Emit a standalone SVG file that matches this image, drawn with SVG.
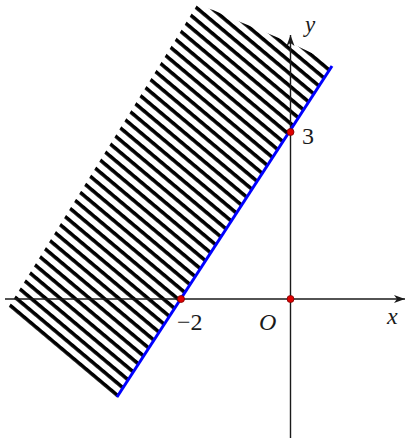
<svg xmlns="http://www.w3.org/2000/svg" width="406" height="443" viewBox="0 0 406 443">
<style>
.axis{stroke:#1a1a1a;stroke-width:1.4;fill:none}
.lbl{font-family:'Liberation Serif','Times New Roman',serif;font-style:italic;fill:#1a1a1a}
.num{font-family:'Liberation Serif','Times New Roman',serif;fill:#1a1a1a}
.pt{fill:#e00000;stroke:#7a0000;stroke-width:0.8}
</style>
<defs>
<pattern id="hatch" patternUnits="userSpaceOnUse" width="20" height="9.4" patternTransform="rotate(40)">
<rect x="0" y="0" width="20" height="3.6" fill="#000"/>
</pattern>
<clipPath id="band">
<path d="M197,5 L213,10 L238,21 L267,33 L295,45 L320,57 L333,66 L117,398 L8,308 Z"/>
</clipPath>
<marker id="arr" viewBox="-12 -5 13 10" markerWidth="13" markerHeight="10" refX="0" refY="0" orient="auto" markerUnits="userSpaceOnUse">
<path d="M0,0 L-11,-4 L-8,0 L-11,4 Z" fill="#1a1a1a"/>
</marker>
</defs>
<g id="hatch-region">
<rect x="0" y="0" width="406" height="443" fill="url(#hatch)" clip-path="url(#band)"/>
</g>
<g id="connectors">
<line class="axis" x1="5" y1="299" x2="405" y2="299" marker-end="url(#arr)"/>
<line class="axis" x1="290.5" y1="438" x2="290.5" y2="35" marker-end="url(#arr)"/>
<line x1="117" y1="397" x2="332" y2="66" stroke="#0000ff" stroke-width="3"/>
</g>
<g id="points">
<circle class="pt" cx="181" cy="299" r="3.5"/>
<circle class="pt" cx="290.5" cy="132" r="3.5"/>
<circle class="pt" cx="290.5" cy="299" r="3.5"/>
</g>
<g id="labels">
<text class="lbl" x="305" y="32" font-size="23">y</text>
<text class="lbl" x="387" y="324" font-size="24">x</text>
<text class="lbl" x="259" y="330" font-size="24">O</text>
<text class="num" x="302" y="144" font-size="24">3</text>
<text class="num" x="177" y="330" font-size="24">−2</text>
</g>
</svg>
